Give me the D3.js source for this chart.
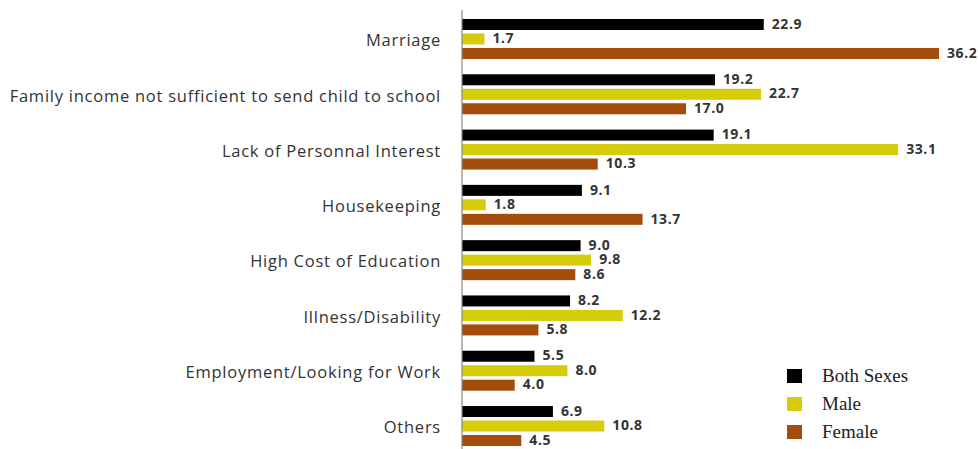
<!DOCTYPE html>
<html><head><meta charset="utf-8">
<script src="https://cdn.jsdelivr.net/npm/d3@7"></script>
<style>body{margin:0;background:#fff}svg{display:block}</style>
</head><body>
<script>
const categories = ["Marriage","Family income not sufficient to send child to school","Lack of Personnal Interest","Housekeeping","High Cost of Education","Illness/Disability","Employment/Looking for Work","Others"];
const seriesNames = ["Both Sexes","Male","Female"];
const bothSexes = [22.9,19.2,19.1,9.1,9.0,8.2,5.5,6.9];
const male = [1.7,22.7,33.1,1.8,9.8,12.2,8.0,10.8];
const female = [36.2,17.0,10.3,13.7,8.6,5.8,4.0,4.5];
const colors = ["#000000","#d6cc0a","#a34c0c"];

const W=978,H=449;
const svg=d3.select("body").append("svg").attr("width",W).attr("height",H);
const values=[bothSexes,male,female];
const x=d3.scaleLinear().domain([0,36.2]).range([462,939]);
const y=d3.scaleBand().domain(categories).range([19,446]).paddingInner(0.277).paddingOuter(0);
const ys=d3.scaleBand().domain(seriesNames).range([0,y.bandwidth()]).paddingInner(0.24);

const g=svg.append("g");
categories.forEach((c,i)=>{
  seriesNames.forEach((s,j)=>{
    const v=values[j][i];
    g.append("rect").attr("x",x(0)).attr("y",y(c)+ys(s)).attr("width",x(v)-x(0)).attr("height",ys.bandwidth()).attr("fill",colors[j]);
    g.append("text").attr("x",x(v)+8).attr("y",y(c)+ys(s)+ys.bandwidth()/2).attr("dy","0.3em")
      .attr("font-family","Open Sans, sans-serif").attr("font-weight","bold").attr("font-size",14).attr("letter-spacing",0.6).attr("fill","#333").text(d3.format(".1f")(v));
  });
});
// axis
const yAxis=d3.axisLeft(y).tickSize(0).tickPadding(21);
const ax=svg.append("g").attr("transform",`translate(${x(0)},0)`).call(yAxis);
ax.select(".domain").attr("d",`M0,10V${H}`).attr("stroke","#888").attr("stroke-width",1.2);
ax.selectAll(".tick").attr("transform",d=>`translate(0,${y(d)+ys("Male")+ys.bandwidth()/2+2})`);
ax.selectAll("text").attr("font-family","Open Sans, sans-serif").attr("font-size",16.5).attr("letter-spacing",0.75).attr("fill","#333");

// legend
const lg=svg.append("g");
seriesNames.forEach((s,j)=>{
  lg.append("rect").attr("x",787).attr("y",369+j*28).attr("width",15).attr("height",14).attr("fill",colors[j]);
  lg.append("text").attr("x",822).attr("y",382+j*28).attr("font-family","Liberation Serif, serif").attr("font-size",19).attr("fill","#222").text(s);
});
</script>
</body></html>
